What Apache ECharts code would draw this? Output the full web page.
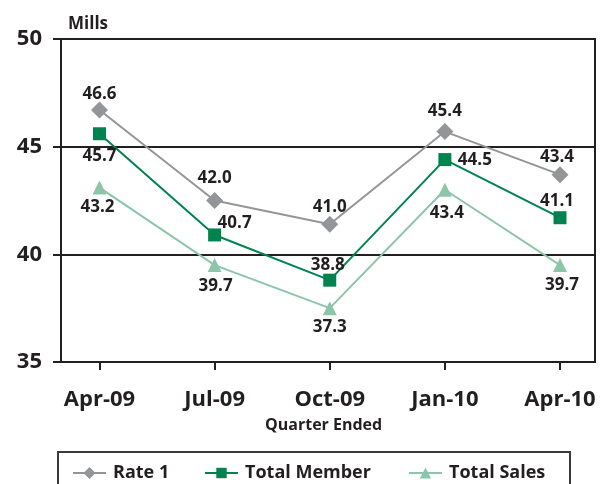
<!doctype html>
<html>
<head>
<meta charset="utf-8">
<title>Mills</title>
<script src="https://cdn.jsdelivr.net/npm/echarts@6/dist/echarts.min.js"></script>
<style type="text/css">
	body{margin:0;padding:0;background:#fff;}
	#chart{width:601px;height:484px;}
</style>
</head>
<body>
<div id="chart"></div>
<script type="text/javascript">
var quarters = ['Apr-09', 'Jul-09', 'Oct-09', 'Jan-10', 'Apr-10'];
// positions as plotted in the picture
var rate1 = [46.7, 42.5, 41.4, 45.7, 43.7];
var member = [45.6, 40.9, 38.8, 44.4, 41.7];
var sales = [43.1, 39.5, 37.5, 43.0, 39.5];
// labels as printed
var rate1Text = ['46.6', '42.0', '41.0', '45.4', '43.4'];
var memberText = ['45.7', '40.7', '38.8', '44.5', '41.1'];
var salesText = ['43.2', '39.7', '37.3', '43.4', '39.7'];

var ink = '#231f20';
var font = '"Open Sans", "Noto Sans", sans-serif';

// label placement of each point (style only)
var rate1Off = [[0, -16], [0, -22], [0, -17], [0, -20], [-3, -18]];
var memberOff = [[0, 22], [20, -12], [-2, -15], [30, 1], [-3, -17]];
var salesOff = [[-2, 20], [1, 21], [0, 19], [2, 23], [2, 20]];

function pts(vals, texts, offs){
	return vals.map(function(v, i){
		return {
			value: v,
			label: {formatter: texts[i], offset: offs[i]}
		};
	});
}

var chart = echarts.init(document.getElementById('chart'));
var lbl = {show: true, position: 'inside', color: ink, fontFamily: font, fontWeight: 'bold', fontSize: 17};
var legText = {color: ink, fontWeight: 'bold', fontSize: 18, fontFamily: font, padding: [0, 0, 0, 2]};

chart.setOption({
	animation: false,
	textStyle: {fontFamily: font},
	grid: [
		{left: 61, right: 6, top: 39, bottom: 122, show: true, borderColor: ink, borderWidth: 2},
		{left: 99.5, right: 41, top: 39, bottom: 122}
	],
	xAxis: [
		{gridIndex: 0, type: 'value', min: 0, max: 1, show: false},
		{
			gridIndex: 1, type: 'category', data: quarters, boundaryGap: false,
			axisLine: {show: false},
			axisTick: {show: true, length: 8, lineStyle: {color: ink, width: 2}},
			axisLabel: {color: ink, fontWeight: 'bold', fontSize: 22, margin: 27, fontFamily: font},
			splitLine: {show: false}
		}
	],
	yAxis: [
		{
			gridIndex: 0, type: 'value', min: 35, max: 50, interval: 5,
			axisLine: {show: true, lineStyle: {color: ink, width: 2}},
			axisTick: {show: true, length: 8, lineStyle: {color: ink, width: 2}},
			axisLabel: {color: ink, fontWeight: 'bold', fontSize: 22, margin: 19, fontFamily: font},
			splitLine: {show: true, lineStyle: {color: ink, width: 2}}
		},
		{gridIndex: 1, type: 'value', min: 35, max: 50, show: false}
	],
	legend: [
		{left: 72, top: 464, padding: 0, itemWidth: 33, itemHeight: 15, data: ['Rate 1'], textStyle: legText},
		{left: 204, top: 464, padding: 0, itemWidth: 33, itemHeight: 13, data: ['Total Member'], textStyle: legText},
		{left: 408, top: 464, padding: 0, itemWidth: 33, itemHeight: 14, data: ['Total Sales'], textStyle: legText}
	],
	graphic: [
		{type: 'text', left: 68, top: 16, style: {text: 'Mills', fill: ink, font: 'bold 17px ' + font}},
		{type: 'text', left: 265, top: 417, style: {text: 'Quarter Ended', fill: ink, font: 'bold 16px ' + font}},
		{type: 'rect', shape: {x: 58, y: 452, width: 512, height: 40}, style: {fill: 'none', stroke: '#3a3a3a', lineWidth: 2}}
	],
	series: [
		{
			name: 'Rate 1', type: 'line', xAxisIndex: 1, yAxisIndex: 1,
			symbol: 'diamond', symbolSize: 17,
			itemStyle: {color: '#939598'}, lineStyle: {color: '#939598', width: 2},
			label: lbl, data: pts(rate1, rate1Text, rate1Off)
		},
		{
			name: 'Total Member', type: 'line', xAxisIndex: 1, yAxisIndex: 1,
			symbol: 'rect', symbolSize: 13,
			itemStyle: {color: '#00834f'}, lineStyle: {color: '#00834f', width: 2},
			label: lbl, data: pts(member, memberText, memberOff)
		},
		{
			name: 'Total Sales', type: 'line', xAxisIndex: 1, yAxisIndex: 1,
			symbol: 'triangle', symbolSize: [14, 14],
			itemStyle: {color: '#8dc5ab'}, lineStyle: {color: '#8dc5ab', width: 2},
			label: lbl, data: pts(sales, salesText, salesOff)
		}
	]
});
</script>
</body>
</html>
